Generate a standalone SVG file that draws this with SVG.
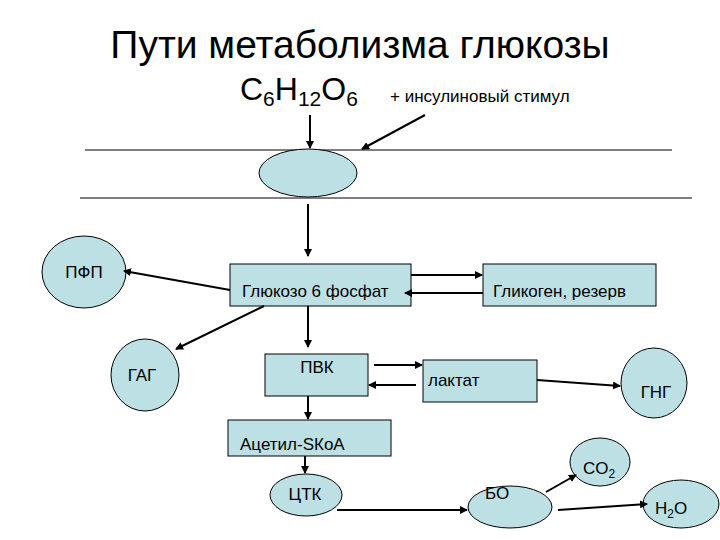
<svg xmlns="http://www.w3.org/2000/svg" width="720" height="540" viewBox="0 0 720 540">
<style>
.n{fill:#bde0e4;stroke:#000;stroke-width:1}
text{font-family:"Liberation Sans",Arial,sans-serif;fill:#000}
.t{font-size:17px}
.c line{stroke:#000;stroke-width:2;marker-end:url(#a)}
</style>
<defs><marker id="a" markerWidth="8" markerHeight="8" refX="7" refY="4" orient="auto" markerUnits="userSpaceOnUse"><path d="M0,0L8,4L0,8z" fill="#000"/></marker></defs>
<rect width="720" height="540" fill="#fff"/>
<text x="360" y="58" font-size="39" text-anchor="middle">Пути метаболизма глюкозы</text>
<text x="240" y="100" font-size="32">C<tspan font-size="21" dy="6">6</tspan><tspan dy="-6">H</tspan><tspan font-size="21" dy="6">12</tspan><tspan dy="-6">O</tspan><tspan font-size="21" dy="6">6</tspan></text>
<text x="390" y="102" class="t">+ инсулиновый стимул</text>
<line x1="85" y1="150" x2="672" y2="150" stroke="#000"/>
<line x1="80" y1="198" x2="692" y2="198" stroke="#000"/>
<g id="carrier"><ellipse class="n" cx="308" cy="173" rx="49" ry="24"/></g>
<g id="pfp"><ellipse class="n" cx="84" cy="272" rx="42" ry="36"/><text x="84" y="278" class="t" text-anchor="middle">ПФП</text></g>
<g id="g6p"><rect class="n" x="230" y="264" width="181" height="42"/><text x="242" y="297" class="t">Глюкозо 6 фосфат</text></g>
<g id="glycogen"><rect class="n" x="483" y="264" width="173" height="42"/><text x="493" y="297" class="t">Гликоген, резерв</text></g>
<g id="gag"><ellipse class="n" cx="145" cy="375" rx="34" ry="36"/><text x="142" y="381" class="t" text-anchor="middle">ГАГ</text></g>
<g id="pvk"><rect class="n" x="265" y="354" width="103" height="42"/><text x="317" y="373" class="t" text-anchor="middle">ПВК</text></g>
<g id="lactate"><rect class="n" x="423" y="360" width="114" height="42"/><text x="428" y="386" class="t">лактат</text></g>
<g id="gng"><ellipse class="n" cx="654" cy="383" rx="33" ry="35"/><text x="656" y="398" class="t" text-anchor="middle">ГНГ</text></g>
<g id="acetyl"><rect class="n" x="228" y="420" width="163" height="36"/><text x="240" y="450" class="t">Ацетил-SКоА</text></g>
<g id="tca"><ellipse class="n" cx="306" cy="495" rx="36" ry="21"/><text x="305" y="500" class="t" text-anchor="middle">ЦТК</text></g>
<g id="bo"><ellipse class="n" cx="510" cy="507" rx="42" ry="21"/><text x="485" y="499" class="t">БО</text></g>
<g id="co2"><ellipse class="n" cx="600" cy="462" rx="30" ry="24"/><text x="583" y="474" class="t">CO<tspan font-size="12" dy="4">2</tspan></text></g>
<g id="h2o"><ellipse class="n" cx="681" cy="504" rx="38" ry="24"/><text x="655" y="514" class="t">H<tspan font-size="12" dy="4">2</tspan><tspan dy="-4">O</tspan></text></g>
<g class="c">
<line x1="310" y1="115" x2="310" y2="148"/>
<line x1="425" y1="115" x2="362" y2="149"/>
<line x1="308" y1="204" x2="308" y2="256"/>
<line x1="230" y1="290" x2="124" y2="271"/>
<line x1="411" y1="275" x2="482" y2="275"/>
<line x1="483" y1="293" x2="405" y2="293"/>
<line x1="264" y1="306" x2="176" y2="349"/>
<line x1="308" y1="306" x2="308" y2="347"/>
<line x1="374" y1="365" x2="422" y2="365"/>
<line x1="416" y1="385" x2="369" y2="385"/>
<line x1="537" y1="380" x2="620" y2="386"/>
<line x1="308" y1="396" x2="308" y2="419"/>
<line x1="305" y1="456" x2="305" y2="473"/>
<line x1="337" y1="510" x2="467" y2="510"/>
<line x1="546" y1="492" x2="576" y2="475"/>
<line x1="558" y1="510" x2="647" y2="504"/>
</g>
</svg>
